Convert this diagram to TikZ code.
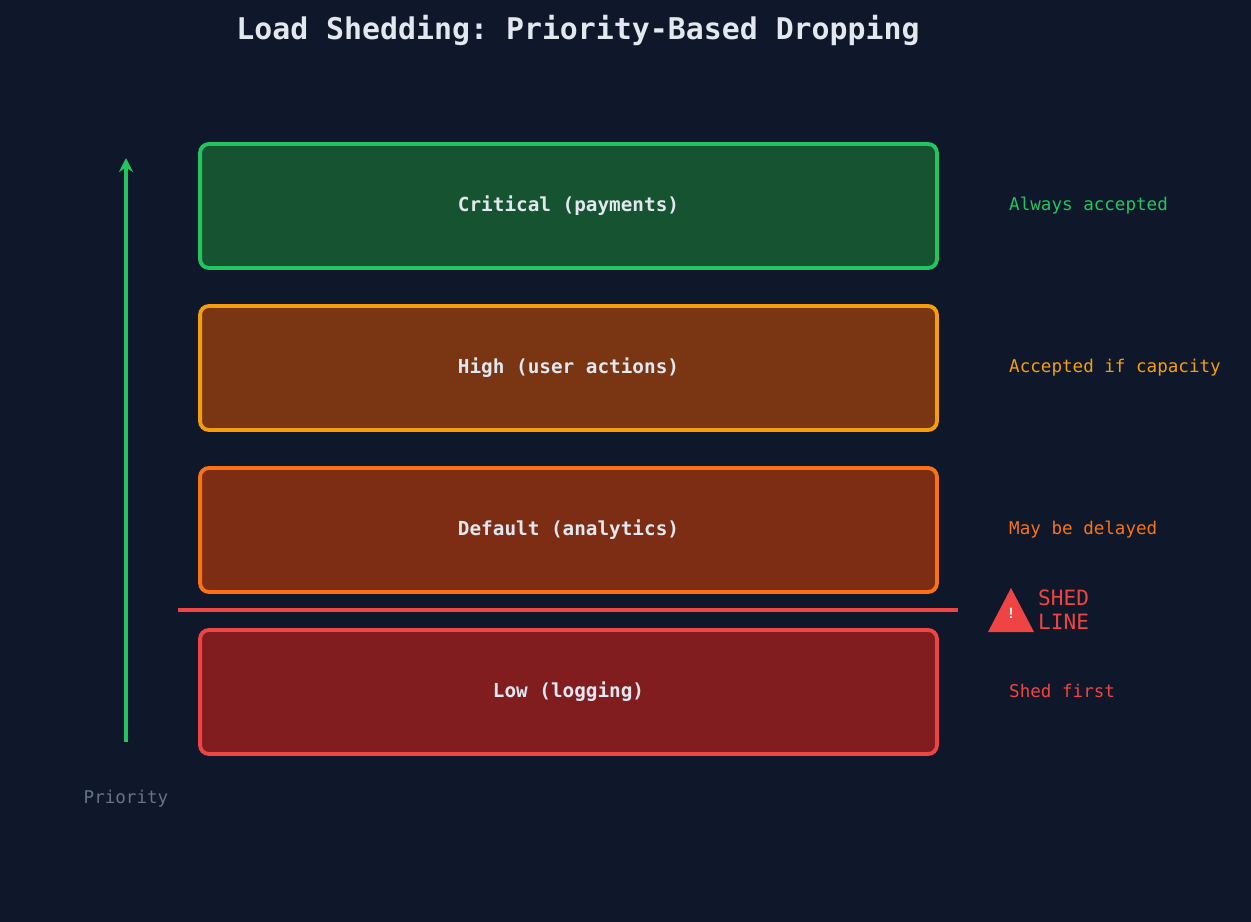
\documentclass[tikz,border=0pt]{standalone}
\usepackage{fontspec}
\setmonofont{DejaVu Sans Mono}
\usetikzlibrary{positioning,arrows.meta}
\definecolor{bgc}{HTML}{0F172A}
\definecolor{txt}{HTML}{E2E8F0}
\definecolor{grn}{HTML}{22C55E}\definecolor{grnf}{HTML}{165330}
\definecolor{amb}{HTML}{F59E0B}\definecolor{ambf}{HTML}{7A3512}
\definecolor{org}{HTML}{F97316}\definecolor{orgf}{HTML}{7C2D14}
\definecolor{red}{HTML}{EF4444}\definecolor{redf}{HTML}{811D1F}
\definecolor{gry}{HTML}{64748B}
\tikzset{
  tier/.style={draw=#1, line width=2.2pt, rounded corners=5pt, minimum width=14.74cm,
    minimum height=2.48cm, text=txt, font=\ttfamily\bfseries\fontsize{11}{13}\selectfont},
  note/.style={anchor=west, text=#1, font=\ttfamily\fontsize{10}{12}\selectfont}
}
\begin{document}
\begin{tikzpicture}[x=0.02cm,y=-0.02cm]
  \useasboundingbox[fill=bgc] (0,0) rectangle (1251,922);
  % title
  \node (title) [text=txt, font=\ttfamily\bfseries\fontsize{17}{20}\selectfont] at (578,30) {Load Shedding: Priority-Based Dropping};
  % tiers
  \node (crit) [tier=grn, fill=grnf] at (568.5,206) {Critical (payments)};
  \node (high) [tier=amb, fill=ambf] at (568.5,368) {High (user actions)};
  \node (dflt) [tier=org, fill=orgf] at (568.5,530) {Default (analytics)};
  \node (low)  [tier=red, fill=redf] at (568.5,692) {Low (logging)};
  % notes
  \node (ncrit) [note=grn] at (1003,206) {Always accepted};
  \node (nhigh) [note=amb] at (1003,368) {Accepted if capacity};
  \node (ndflt) [note=org] at (1003,530) {May be delayed};
  \node (nlow)  [note=red] at (1003,691) {Shed first};
  % shed line
  \coordinate (shedL) at (178,610);
  \coordinate (shedR) at (958,610);
  \draw [red, line width=2.5pt] (shedL) -- (shedR);
  \fill [red] (1011,588) -- (1034,632) -- (988,632) -- cycle;
  \node (bang) [text=white, font=\ttfamily\bfseries\fontsize{8}{9}\selectfont] at (1011,613) {!};
  \node (shed) [anchor=west, align=left, text=red, font=\ttfamily\fontsize{12}{13.5}\selectfont] at (1032,610) {SHED\\LINE};
  % priority axis
  \coordinate (pbot) at (126,742);
  \coordinate (ptop) at (126,158);
  \draw [grn, line width=2.5pt, -{Stealth[length=8pt,width=8pt]}] (pbot) -- (ptop);
  \node (prio) [text=gry, font=\ttfamily\fontsize{10}{12}\selectfont] at (126,799) {Priority};
\end{tikzpicture}
\end{document}
